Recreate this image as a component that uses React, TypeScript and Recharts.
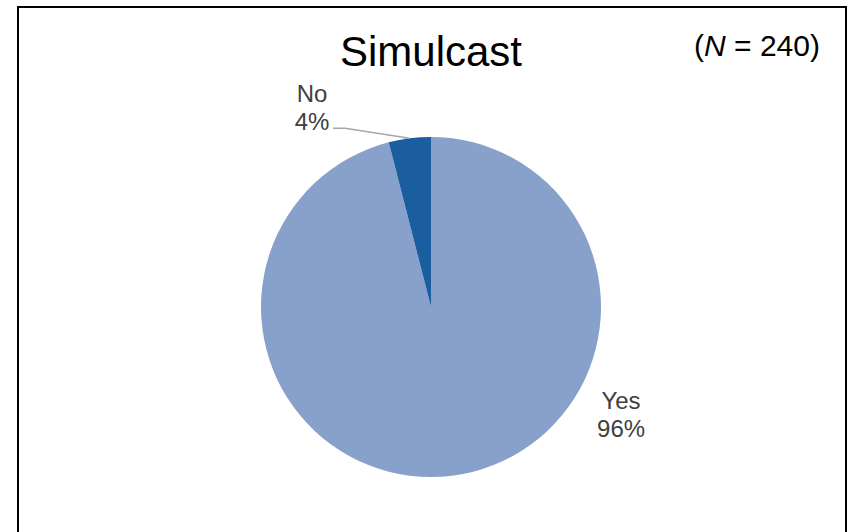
import { PieChart, Pie, Cell } from "recharts";

const answers = ["Yes", "No"];
const shares = [96, 4];
const sampleSize = 240;

const COLORS: Record<string, string> = {
  Yes: "#88A1CB",
  No: "#1B5E9F",
};

// label anchor relative to pie centre, in units of the radius
const LABEL_POS: Record<string, { fx: number; fy: number; line?: boolean }> = {
  Yes: { fx: 1.118, fy: 0.6 },
  No: { fx: -0.7, fy: -1.205, line: true },
};

const data = answers.map((name, i) => ({ name, value: shares[i] }));

const RAD = Math.PI / 180;

function renderLabel(props: any) {
  const { cx, cy, outerRadius, midAngle, name, value } = props;
  const pos = LABEL_POS[name];
  const x = cx + pos.fx * outerRadius;
  const y = cy + pos.fy * outerRadius;
  const edgeX = cx + outerRadius * Math.cos(-midAngle * RAD);
  const edgeY = cy + outerRadius * Math.sin(-midAngle * RAD);
  return (
    <g>
      {pos.line && (
        <polyline
          points={`${x + 21},${y + 26} ${x + 33},${y + 26} ${edgeX},${edgeY}`}
          fill="none"
          stroke="#A6A6A6"
          strokeWidth={1.5}
        />
      )}
      <text
        x={x}
        y={y}
        textAnchor="middle"
        fill="#404040"
        fontSize={24}
        fontFamily="'Liberation Sans', Arial, sans-serif"
      >
        {name}
      </text>
      <text
        x={x}
        y={y + 28}
        textAnchor="middle"
        fill="#404040"
        fontSize={24}
        fontFamily="'Liberation Sans', Arial, sans-serif"
      >
        {`${value}%`}
      </text>
    </g>
  );
}

export default function App() {
  return (
    <div
      style={{
        position: "absolute",
        left: 0,
        top: 0,
        width: 848,
        height: 532,
        overflow: "hidden",
        background: "#fff",
        fontFamily: "'Liberation Sans', Arial, sans-serif",
      }}
    >
      <div
        style={{
          position: "absolute",
          left: 17,
          top: 6,
          width: 826,
          height: 560,
          border: "2px solid #000",
        }}
      />
      <div
        style={{
          position: "absolute",
          left: 0,
          width: 862,
          top: 27,
          textAlign: "center",
          fontSize: 42,
          lineHeight: "50px",
          color: "#000",
        }}
      >
        Simulcast
      </div>
      <div
        style={{
          position: "absolute",
          left: 694,
          top: 28,
          fontSize: 30,
          lineHeight: "36px",
          color: "#000",
        }}
      >
        (<i>N</i> = {sampleSize})
      </div>
      <PieChart
        width={848}
        height={532}
        margin={{ top: 0, right: 0, bottom: 0, left: 0 }}
        style={{ position: "absolute", left: 0, top: 0 }}
      >
        <Pie
          data={data}
          dataKey="value"
          nameKey="name"
          cx={431}
          cy={307}
          outerRadius={170}
          startAngle={90}
          endAngle={-270}
          stroke="none"
          label={renderLabel}
          labelLine={false}
          isAnimationActive={false}
        >
          {data.map((d) => (
            <Cell key={d.name} fill={COLORS[d.name]} />
          ))}
        </Pie>
      </PieChart>
    </div>
  );
}
